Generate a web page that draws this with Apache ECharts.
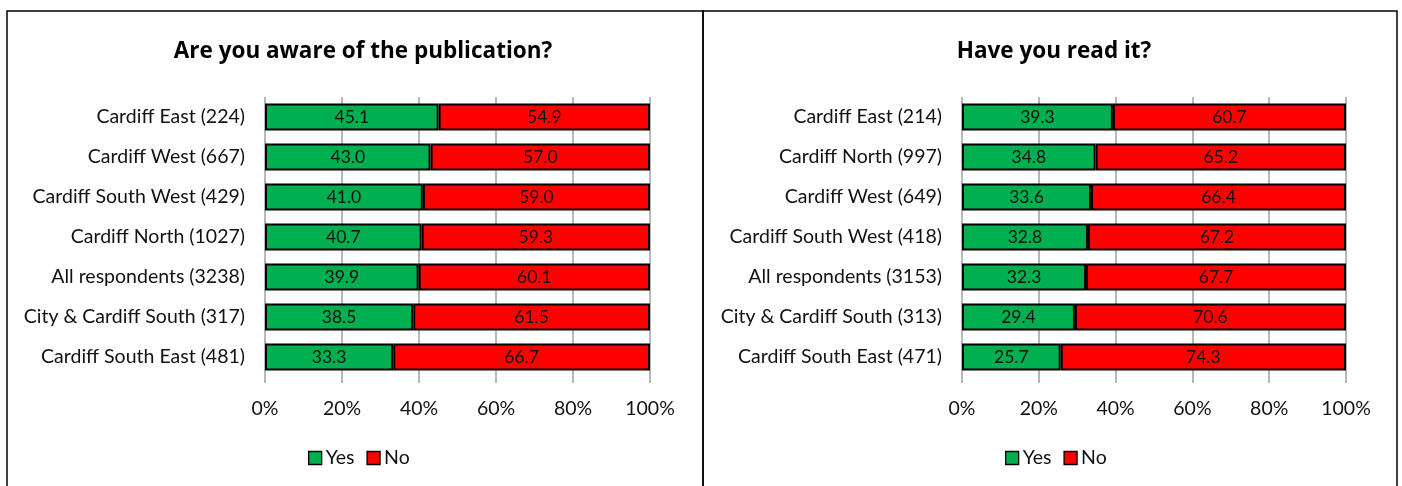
<!DOCTYPE html>
<html>
<head>
<meta charset="utf-8">
<script src="https://cdn.jsdelivr.net/npm/echarts@6/dist/echarts.min.js"></script>
<style>
  html, body { margin: 0; padding: 0; background: #fff; }
  #chart { width: 1402px; height: 486px; }
</style>
</head>
<body>
<div id="chart"></div>
<script>
// left panel: aware of the publication
const awareCats = ['Cardiff East (224)', 'Cardiff West (667)', 'Cardiff South West (429)', 'Cardiff North (1027)',
  'All respondents (3238)', 'City & Cardiff South (317)', 'Cardiff South East (481)'];
const awareYes = [45.1, 43.0, 41.0, 40.7, 39.9, 38.5, 33.3];
const awareNo = [54.9, 57.0, 59.0, 59.3, 60.1, 61.5, 66.7];

// right panel: read it
const readCats = ['Cardiff East (214)', 'Cardiff North (997)', 'Cardiff West (649)', 'Cardiff South West (418)',
  'All respondents (3153)', 'City & Cardiff South (313)', 'Cardiff South East (471)'];
const readYes = [39.3, 34.8, 33.6, 32.8, 32.3, 29.4, 25.7];
const readNo = [60.7, 65.2, 66.4, 67.2, 67.7, 70.6, 74.3];

const FONT = 'Lato, "Open Sans", sans-serif';
const GREEN = '#00B050';
const RED = '#FF0000';

const chart = echarts.init(document.getElementById('chart'));

function xAx(gi) {
  return {
    type: 'value', gridIndex: gi, min: 0, max: 100, interval: 20,
    axisLine: { show: false },
    axisTick: { show: true, length: 6, lineStyle: { color: '#a0a0a0', width: 1.5 } },
    splitLine: { show: true, lineStyle: { color: '#a0a0a0', width: 1.5 } },
    axisLabel: { formatter: '{value}%', fontFamily: FONT, fontSize: 19.5, color: '#111', margin: 22 }
  };
}
function yAx(gi, cats) {
  return {
    type: 'category', gridIndex: gi, data: cats, inverse: true,
    axisLine: { show: false }, axisTick: { show: false },
    axisLabel: { fontFamily: FONT, fontSize: 19.5, color: '#111', margin: 20 }
  };
}
function bar(name, gi, data, color) {
  return {
    name: name, type: 'bar', stack: 's' + gi, xAxisIndex: gi, yAxisIndex: gi,
    data: data, barCategoryGap: '32%',
    itemStyle: { color: color, borderColor: '#000', borderWidth: 2 },
    label: { show: true, position: 'inside', formatter: p => p.value.toFixed(1),
      fontFamily: FONT, fontSize: 17.5, color: '#111' }
  };
}
function legend(x) {
  return {
    left: x, top: 448, padding: 0, itemWidth: 13, itemHeight: 13, itemGap: 12,
    icon: 'rect', data: ['Yes', 'No'],
    textStyle: { fontFamily: FONT, fontSize: 19.5, color: '#111', padding: [0, 0, 0, -1] },
    itemStyle: { borderColor: '#000', borderWidth: 1.3 }
  };
}
const titleStyle = { fontFamily: '"Open Sans", Lato, sans-serif', fontSize: 22.5, fontWeight: 'bold', color: '#000' };

chart.setOption({
  animation: false,
  title: [
    { text: 'Are you aware of the publication?', left: 358, top: 35, textAlign: 'center', textStyle: titleStyle },
    { text: 'Have you read it?', left: 1049, top: 35, textAlign: 'center', textStyle: titleStyle }
  ],
  legend: [legend(308), legend(1005)],
  grid: [
    { left: 265, width: 385, top: 97, height: 280 },
    { left: 962, width: 384, top: 97, height: 280 }
  ],
  xAxis: [xAx(0), xAx(1)],
  yAxis: [yAx(0, awareCats), yAx(1, readCats)],
  series: [
    bar('Yes', 0, awareYes, GREEN),
    bar('No', 0, awareNo, RED),
    bar('Yes', 1, readYes, GREEN),
    bar('No', 1, readNo, RED)
  ],
  graphic: [
    { type: 'rect', shape: { x: 7, y: 11, width: 696, height: 490 }, style: { fill: 'none', stroke: '#000', lineWidth: 1.5 } },
    { type: 'rect', shape: { x: 703, y: 11, width: 694, height: 490 }, style: { fill: 'none', stroke: '#000', lineWidth: 1.5 } }
  ]
});
</script>
</body>
</html>
